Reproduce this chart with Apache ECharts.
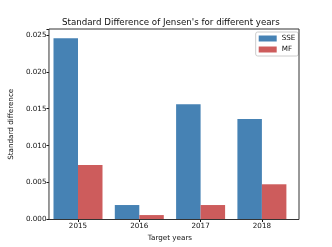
<!DOCTYPE html>
<html>
<head>
<meta charset="utf-8">
<script src="https://cdn.jsdelivr.net/npm/echarts@6/dist/echarts.min.js"></script>
<style>html,body{margin:0;padding:0;background:#fff}#c{width:332px;height:247px}</style>
</head>
<body>
<div id="c"></div>
<script>
const years = ['2015', '2016', '2017', '2018'];
const sse = [0.02455, 0.00196, 0.01561, 0.01362];
const mf = [0.00738, 0.0006, 0.00196, 0.00477];
const yTicks = [0, 0.005, 0.01, 0.015, 0.02, 0.025];
const Y_MAX = 0.0258;

const FONT = 'DejaVu Sans';
const chart = echarts.init(document.getElementById('c'), null, {renderer: 'canvas'});
const fmt = v => yTicks.some(t => Math.abs(t - v) < 1e-9) ? v.toFixed(3) : '';
chart.setOption({
  animation: false,
  backgroundColor: '#fff',
  textStyle: {fontFamily: FONT},
  title: {
    text: "Standard Difference of Jensen's for different years",
    left: 62, top: 18, padding: 0,
    textStyle: {fontFamily: FONT, fontSize: 8.7, fontWeight: 'normal', color: '#111'}
  },
  legend: {
    orient: 'vertical', left: 255.7, top: 32,
    padding: [2, 3, 2, 3], itemGap: 2, itemWidth: 18, itemHeight: 6, itemTextGap: 3,
    borderColor: '#ccc', borderWidth: 1, borderRadius: 2, backgroundColor: 'rgba(255,255,255,0.8)',
    icon: 'rect',
    textStyle: {fontFamily: FONT, fontSize: 7.2, color: '#111', lineHeight: 9},
    data: ['SSE', 'MF']
  },
  grid: [
    {left: 47.35, width: 245.2, top: 29, height: 190.5, show: false},
    {left: 42, right: 33, top: 29, height: 190.5, show: true, borderColor: '#333', borderWidth: 1, backgroundColor: 'transparent', z: 5}
  ],
  xAxis: [
    {
      type: 'category', gridIndex: 0, data: years,
      axisLine: {show: false},
      axisTick: {show: true, alignWithLabel: true, length: 2.5, lineStyle: {color: '#111'}},
      axisLabel: {fontFamily: FONT, fontSize: 7.2, color: '#111', margin: 3.5},
      name: 'Target years', nameLocation: 'middle', nameGap: 14.5,
      nameTextStyle: {fontFamily: FONT, fontSize: 7.2, color: '#111'}
    },
    {type: 'value', gridIndex: 1, show: false}
  ],
  yAxis: [
    {type: 'value', gridIndex: 0, min: 0, max: Y_MAX, show: false, splitLine: {show: false}},
    {
      type: 'value', gridIndex: 1, min: 0, max: Y_MAX, interval: 0.005,
      axisLine: {show: false},
      axisTick: {show: true, length: 2.5, lineStyle: {color: '#111'}},
      splitLine: {show: false},
      axisLabel: {fontFamily: FONT, fontSize: 7.2, color: '#111', margin: 2.5, formatter: fmt},
      name: 'Standard difference', nameLocation: 'middle', nameGap: 28,
      nameTextStyle: {fontFamily: FONT, fontSize: 7.2, color: '#111'}
    }
  ],
  series: [
    {name: 'SSE', type: 'bar', xAxisIndex: 0, yAxisIndex: 0, data: sse, barWidth: 24.5, barGap: '0%',
      itemStyle: {color: '#4682b4'}},
    {name: 'MF', type: 'bar', xAxisIndex: 0, yAxisIndex: 0, data: mf, barWidth: 24.5, barGap: '0%',
      itemStyle: {color: '#cd5c5c'}}
  ]
});
</script>
</body>
</html>
